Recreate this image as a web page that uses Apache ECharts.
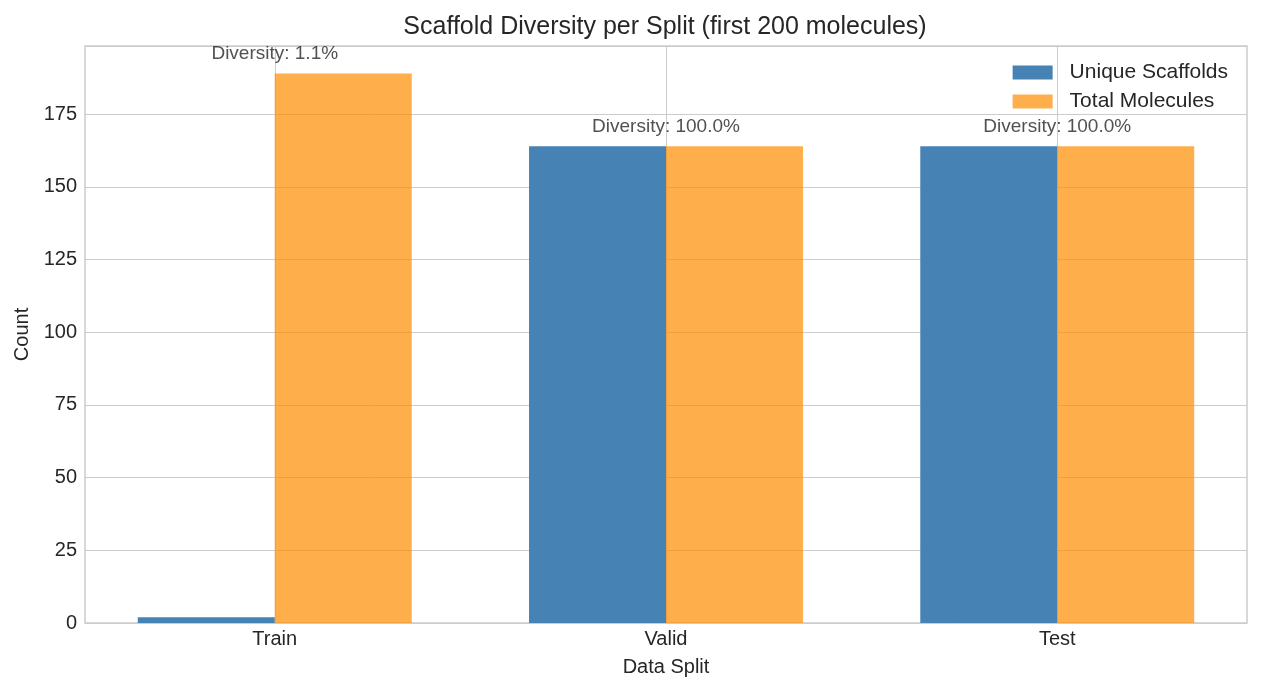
<!DOCTYPE html>
<html>
	<head>
		<meta charset="UTF-8">
		<title>Scaffold Diversity per Split</title>
	</head>
	<body style="margin:0;">
		<div id="main" style="width: 1262px;height:692px;"></div>
		<script src="https://cdn.jsdelivr.net/npm/echarts@6/dist/echarts.min.js"></script>
		<script>
			var splits = ['Train', 'Valid', 'Test'];
			var uniqueScaffolds = [2, 164, 164];
			var totalMolecules = [189, 164, 164];
			var yTicks = [0, 25, 50, 75, 100, 125, 150, 175];

			var barW = 0.35;
			var uniqueData = uniqueScaffolds.map(function (v, i) { return [i - barW / 2, v]; });
			var totalData = totalMolecules.map(function (v, i) { return [i + barW / 2, v]; });
			var divData = splits.map(function (s, i) {
				return [i, Math.max(uniqueScaffolds[i], totalMolecules[i]), uniqueScaffolds[i] / totalMolecules[i] * 100];
			});
			var ymax = Math.max.apply(null, totalMolecules) * 1.05;
			var font = 'Liberation Sans, Arial, sans-serif';

			var chart = echarts.init(document.getElementById('main'));
			chart.setOption({
				animation: false,
				backgroundColor: '#fff',
				title: {
					text: 'Scaffold Diversity per Split (first 200 molecules)',
					left: 660, top: 10, textAlign: 'center',
					textStyle: { fontFamily: font, fontSize: 25, fontWeight: 'normal', color: '#262626' }
				},
				legend: {
					data: ['Unique Scaffolds', 'Total Molecules'],
					orient: 'vertical',
					right: 29, top: 57,
					icon: 'rect',
					itemWidth: 40, itemHeight: 14, itemGap: 8,
					textStyle: { fontFamily: font, fontSize: 21, color: '#262626', padding: [0, 0, 0, 12] }
				},
				grid: {
					left: 85, right: 15, top: 46, bottom: 69,
					outerBoundsMode: 'none',
					show: true, borderColor: '#cccccc', borderWidth: 1.5
				},
				xAxis: {
					type: 'value',
					min: -0.485, max: 2.485,
					name: 'Data Split', nameLocation: 'middle', nameGap: 34,
					nameTextStyle: { fontFamily: font, fontSize: 20, color: '#262626' },
					axisLine: { show: false },
					axisTick: { show: false, customValues: [0, 1, 2] },
					axisLabel: {
						customValues: [0, 1, 2],
						formatter: function (v) { return splits[Math.round(v)]; },
						fontFamily: font, fontSize: 20, color: '#262626', margin: 6
					},
					splitLine: { show: true, lineStyle: { color: '#cccccc', width: 1 } }
				},
				yAxis: {
					type: 'value',
					min: 0, max: ymax, interval: 25,
					name: 'Count', nameLocation: 'middle', nameGap: 52,
					nameTextStyle: { fontFamily: font, fontSize: 20, color: '#262626' },
					axisLine: { show: false },
					axisTick: { show: false },
					axisLabel: {
						showMaxLabel: false,
						formatter: function (v) { return yTicks.indexOf(v) >= 0 ? v : ''; },
						fontFamily: font, fontSize: 20, color: '#262626', margin: 8
					},
					splitLine: { show: true, lineStyle: { color: '#cccccc', width: 1 } }
				},
				series: [
					{
						name: 'Unique Scaffolds', type: 'bar',
						data: uniqueData, barWidth: 137, barGap: '-100%',
						itemStyle: { color: '#4682B4' }
					},
					{
						name: 'Total Molecules', type: 'bar',
						data: totalData, barWidth: 137, barGap: '-100%',
						itemStyle: { color: 'rgba(255,140,0,0.7)' }
					},
					{
						name: 'Diversity', type: 'scatter',
						data: divData, symbolSize: 0,
						label: {
							show: true, position: 'top', distance: 10,
							formatter: function (p) { return 'Diversity: ' + p.value[2].toFixed(1) + '%'; },
							fontFamily: font, fontSize: 19, color: '#262626'
						}
					}
				]
			});
		</script>
	</body>
</html>
